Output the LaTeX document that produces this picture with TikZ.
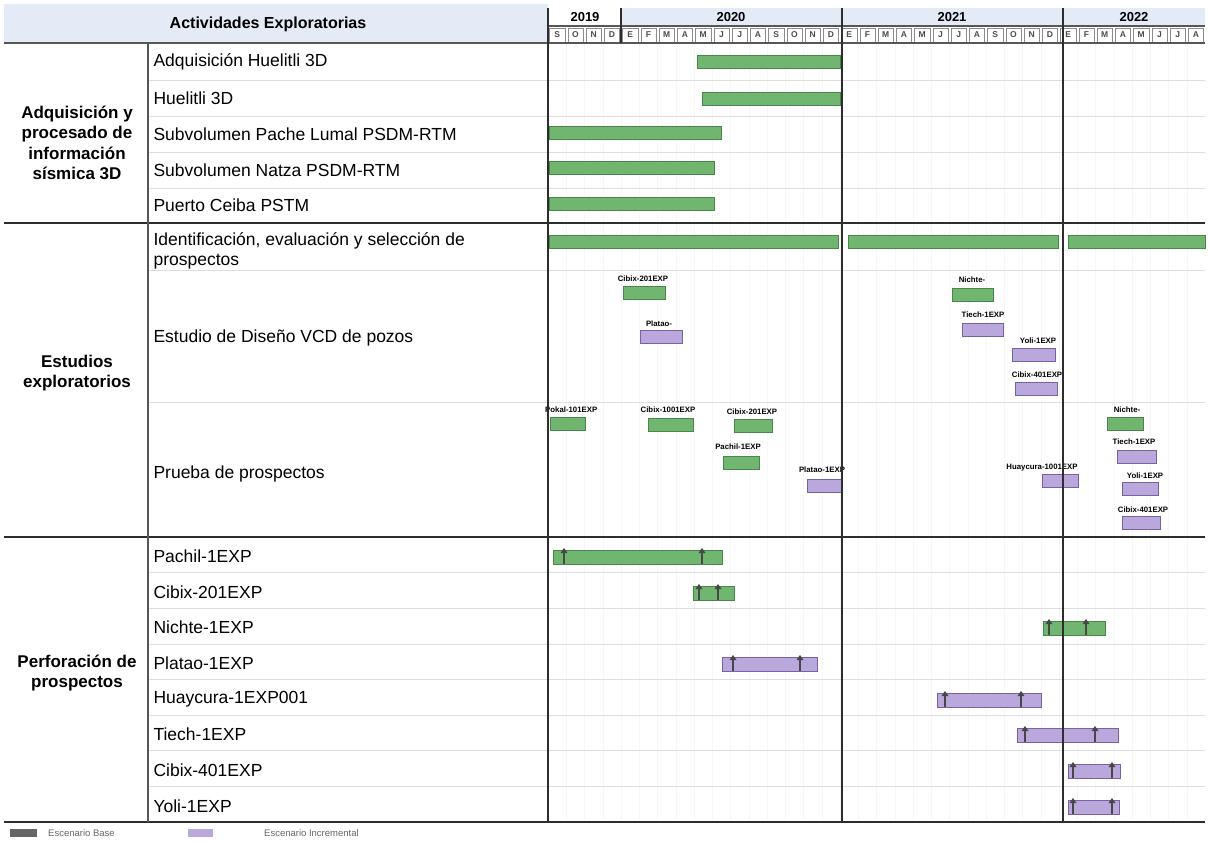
\documentclass[tikz,border=0pt]{standalone}
\usepackage{fontspec}
\setmainfont{Liberation Sans}
\definecolor{gfill}{RGB}{112,182,112}
\definecolor{gdraw}{RGB}{72,135,72}
\definecolor{pfill}{RGB}{186,168,220}
\definecolor{pdraw}{RGB}{118,98,165}
\definecolor{hdr}{RGB}{228,235,246}
\definecolor{gridc}{RGB}{222,222,222}
\definecolor{rulec}{RGB}{45,45,45}
\newcommand{\gbar}[4][greenbar]{\draw[#1] (#2,#4-6.5) rectangle (#3,#4+6.5);}
\newcommand{\mkr}[2]{\draw[black!72,line width=1.3pt] (#1,#2-8) -- (#1,#2+7);\fill[black!72] (#1-3.5,#2-4) -- (#1,#2-9) -- (#1+3.5,#2-4) -- cycle;}
\begin{document}
\begin{tikzpicture}[x=1pt,y=-1pt,
  greenbar/.style={fill=gfill,draw=gdraw,line width=0.8pt},
  purplebar/.style={fill=pfill,draw=pdraw,line width=0.8pt},
  thickrule/.style={draw=rulec,line width=1.8pt},
  midrule/.style={draw=rulec!80,line width=1.1pt},
  rowrule/.style={draw=gridc,line width=0.8pt},
  vgrid/.style={draw=black!3,line width=0.4pt},
  grp/.style={font=\fontsize{17}{20.5}\selectfont\bfseries,align=center},
  act/.style={font=\fontsize{17.5}{20}\selectfont,anchor=west,align=left},
  tag/.style={font=\fontsize{7.8}{8}\selectfont\bfseries,inner sep=0pt},
  yr/.style={font=\fontsize{13}{13}\selectfont\bfseries,inner sep=0pt},
  mo/.style={font=\fontsize{8.5}{9}\selectfont\bfseries,text=black!70,inner sep=0pt},
  leg/.style={font=\fontsize{9.5}{10}\selectfont,text=black!60,anchor=west,inner sep=0pt}
]
\useasboundingbox (0,0) rectangle (1209,842);
\fill[white] (0,0) rectangle (1209,842);
% header
\fill[hdr] (4,4) rectangle (548,43);
\fill[hdr] (621,8) rectangle (1205,26);
\node[font=\fontsize{16}{16}\selectfont\bfseries] (hdrtxt) at (268,24) {Actividades Exploratorias};
\node[yr] (y19) at (585,17) {2019};
\node[yr] (y20) at (731,17) {2020};
\node[yr] (y21) at (952,17) {2021};
\node[yr] (y22) at (1134,17) {2022};
\foreach \m [count=\i from 0] in {S,O,N,D,E,F,M,A,M,J,J,A,S,O,N,D,E,F,M,A,M,J,J,A,S,O,N,D,E,F,M,A,M,J,J,A}{
  \draw[black!45,line width=0.5pt] ({548+\i*18.25+1.5},28) rectangle ({548+(\i+1)*18.25-1.5},42);
  \node[mo] (mo\i) at ({548+(\i+0.5)*18.25},35) {\m};
}
% light grid
\foreach \i in {1,...,35}{\draw[vgrid] ({548+\i*18.25},43) -- ({548+\i*18.25},822);}
\foreach \yy in {80,116,152,188,270,402,572.6,608.3,643.9,679.5,715.1,750.8,786.4}{\draw[rowrule] (148,\yy) -- (1205,\yy);}
% group labels
\node[grp] (g1) at (77,143) {Adquisición y\\procesado de\\información\\sísmica 3D};
\node[grp] (g2) at (77,373) {Estudios\\exploratorios};
\node[grp] (g3) at (77,673) {Perforación de\\prospectos};
% activities
\node[act] (a1) at (150,62) {Adquisición Huelitli 3D};
\node[act] (a2) at (150,98) {Huelitli 3D};
\node[act] (a3) at (150,134) {Subvolumen Pache Lumal PSDM-RTM};
\node[act] (a4) at (150,170) {Subvolumen Natza PSDM-RTM};
\node[act] (a5) at (150,205) {Puerto Ceiba PSTM};
\node[act] (a6) at (150,251) {Identificación, evaluación y selección de\\prospectos};
\node[act] (a7) at (150,338) {Estudio de Diseño VCD de pozos};
\node[act] (a8) at (150,474) {Prueba de prospectos};
\node[act] (a9) at (150,556) {Pachil-1EXP};
\node[act] (a10) at (150,592) {Cibix-201EXP};
\node[act] (a11) at (150,627) {Nichte-1EXP};
\node[act] (a12) at (150,663) {Platao-1EXP};
\node[act] (a13) at (150,699) {Huaycura-1EXP001};
\node[act] (a14) at (150,734) {Tiech-1EXP};
\node[act] (a15) at (150,770) {Cibix-401EXP};
\node[act] (a16) at (150,806) {Yoli-1EXP};
% section 1 bars
\gbar{697}{840}{62}
\gbar{702}{840}{99}
\gbar{549}{721}{133}
\gbar{549}{714}{168}
\gbar{549}{714}{204}
% section 2
\gbar{549}{838}{242}
\gbar{848}{1058}{242}
\gbar{1068}{1205}{242}
\node[tag] (t1) at (643,279) {Cibix-201EXP};
\gbar{623}{665}{293}
\node[tag] (t2) at (659,324) {Platao-};
\gbar[purplebar]{640}{682}{337}
\node[tag] (t3) at (972,280) {Nichte-};
\gbar{952}{993}{295}
\node[tag] (t4) at (983,315) {Tiech-1EXP};
\gbar[purplebar]{962}{1003}{330}
\node[tag] (t5) at (1038,341) {Yoli-1EXP};
\gbar[purplebar]{1012}{1055}{355}
\node[tag] (t6) at (1037,375) {Cibix-401EXP};
\gbar[purplebar]{1015}{1057}{389}
\node[tag,anchor=west] (t7) at (545,410) {Pokal-101EXP};
\gbar{550}{585}{424}
\node[tag] (t8) at (668,410) {Cibix-1001EXP};
\gbar{648}{693}{425}
\node[tag] (t9) at (752,412) {Cibix-201EXP};
\gbar{734}{772}{426}
\node[tag] (t10) at (738,447) {Pachil-1EXP};
\gbar{723}{759}{463}
\node[tag] (t11) at (822,470) {Platao-1EXP};
\gbar[purplebar]{807}{842}{486}
\node[tag] (t12) at (1127,410) {Nichte-};
\gbar{1107}{1143}{424}
\node[tag] (t13) at (1134,442) {Tiech-1EXP};
\gbar[purplebar]{1117}{1156}{457}
\node[tag] (t14) at (1042,468) {Huaycura-1001EXP};
\gbar[purplebar]{1042}{1078}{481}
\node[tag] (t15) at (1145,476) {Yoli-1EXP};
\gbar[purplebar]{1122}{1158}{489}
\node[tag] (t16) at (1143,510) {Cibix-401EXP};
\gbar[purplebar]{1122}{1160}{523}
% section 3 bars
\draw[greenbar] (553,550) rectangle (722,564);
\mkr{564}{557}\mkr{702}{557}
\draw[greenbar] (693,586) rectangle (734,600);
\mkr{699}{593}\mkr{718}{593}
\draw[greenbar] (1043,621) rectangle (1105,635);
\mkr{1049}{628}\mkr{1086}{628}
\draw[purplebar] (722,657) rectangle (817,671);
\mkr{733}{664}\mkr{800}{664}
\draw[purplebar] (937,693) rectangle (1041,707);
\mkr{945}{700}\mkr{1021}{700}
\draw[purplebar] (1017,728) rectangle (1118,742);
\mkr{1025}{735}\mkr{1095}{735}
\draw[purplebar] (1068,764) rectangle (1120,778);
\mkr{1073}{771}\mkr{1112}{771}
\draw[purplebar] (1068,800) rectangle (1119,814);
\mkr{1073}{807}\mkr{1112}{807}
% rules
\draw[midrule] (4,43) -- (1205,43);
\draw[midrule] (548,26) -- (1205,26);
\draw[thickrule] (4,223) -- (1205,223);
\draw[thickrule] (4,537) -- (1205,537);
\draw[thickrule] (4,822) -- (1205,822);
\draw[midrule] (148,43) -- (148,822);
\draw[thickrule] (548,8) -- (548,822);
\draw[thickrule] (842,8) -- (842,822);
\draw[thickrule] (1063,8) -- (1063,822);
\draw[thickrule] (621,8) -- (621,43);
% legend
\fill[black!60] (10,829) rectangle (37,837);
\node[leg] (l1) at (48,833) {Escenario Base};
\fill[pfill] (188,829) rectangle (213,837);
\node[leg] (l2) at (264,833) {Escenario Incremental};
\end{tikzpicture}
\end{document}
